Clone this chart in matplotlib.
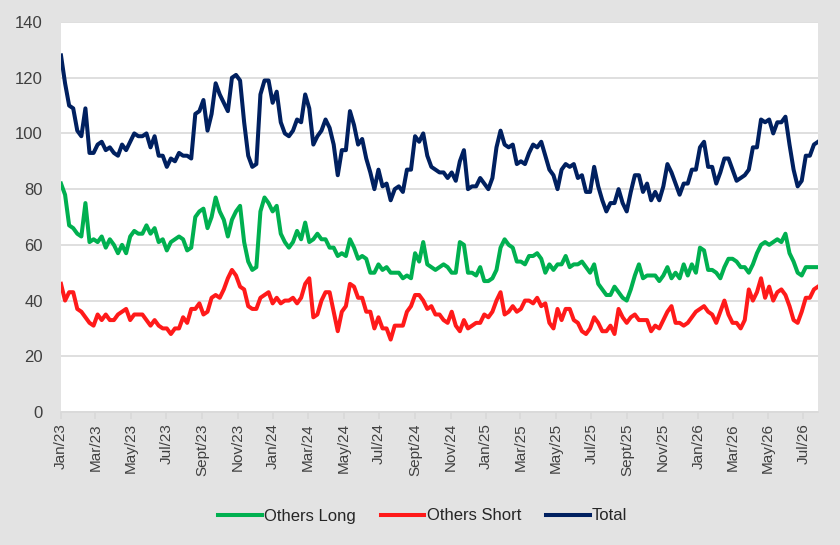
import matplotlib
matplotlib.use('Agg')
import matplotlib.pyplot as plt
import pandas as pd

plt.rcParams['font.family'] = ['Liberation Sans Narrow', 'Liberation Sans', 'DejaVu Sans']

# weekly values, Jan/23 .. late Jul/26
others_long = [
    82, 78, 67, 66, 64, 63, 75, 61, 62, 61,
    63, 59, 62, 60, 57, 60, 57, 63, 65, 64,
    64, 67, 64, 66, 61, 62, 58, 61, 62, 63,
    62, 58, 59, 70, 72, 73, 66, 70, 77, 72,
    69, 63, 69, 72, 74, 61, 54, 51, 52, 72,
    77, 75, 72, 74, 64, 61, 59, 61, 65, 62,
    68, 61, 62, 64, 62, 62, 59, 59, 56, 57,
    56, 62, 59, 55, 56, 55, 50, 50, 53, 51,
    52, 50, 50, 50, 48, 49, 48, 57, 54,
    61, 53, 52, 51, 52, 53, 52, 50, 50, 61, 60, 50, 50, 49, 52, 47, 47, 48, 51, 59, 62, 60, 59, 54, 54,
    53, 56, 56, 57, 55, 50, 53, 51, 53, 53, 56, 52, 53, 53, 54, 52, 50, 53, 46, 44, 42, 42, 45, 43, 41, 40,
    44, 49, 53, 48, 49, 49, 49, 47, 49, 52, 48, 50, 48, 53, 49, 53, 50, 59, 58, 51, 51, 50, 48, 52, 55, 55,
    54, 52,
    52, 50, 53, 57, 60, 61, 60, 61, 62, 61, 64, 57, 54, 50, 49, 52, 52, 52, 52,
]

others_short = [
    46, 40, 43, 43, 37, 36, 34, 32, 31, 35,
    33, 35, 33, 33, 35, 36, 37, 33, 35, 35,
    35, 33, 31, 33, 31, 30, 30, 28, 30, 30,
    34, 32, 37, 37, 39, 35, 36, 41, 42, 41,
    44, 48, 51, 49, 45, 44, 38, 37, 37, 41,
    42, 43, 39, 41, 39, 40, 40, 41, 39, 41,
    46, 48, 34, 35, 40, 43, 43, 36, 29, 36,
    38, 46, 45, 41, 41, 36, 36, 30, 34, 30,
    30, 26, 31, 31, 31, 36, 38, 42, 42,
    40, 37, 38, 35, 35, 33, 32, 36, 31, 29, 33, 30, 31, 32, 32, 35, 34, 36, 40, 43, 35, 36, 38, 36, 37,
    40, 40, 39, 41, 38, 39, 32, 30, 37, 33, 37, 37, 33, 32, 29, 28, 30, 34, 32, 29, 29, 31, 28, 37, 34, 32,
    34, 35, 33, 33, 33, 29, 31, 30, 33, 36, 38, 32, 32, 31, 32, 34, 36, 37, 38, 36, 35, 32, 36, 40, 35, 32,
    32, 30,
    33, 44, 40, 43, 48, 41, 45, 40, 43, 44, 42, 38, 33, 32, 36, 41, 41, 44, 45,
]

total = [
    128, 118, 110, 109, 101, 99, 109, 93, 93, 96,
    97, 94, 95, 93, 92, 96, 94, 97, 100, 99,
    99, 100, 95, 99, 92, 92, 88, 91, 90, 93,
    92, 92, 91, 107, 108, 112, 101, 107, 118, 114,
    111, 108, 120, 121, 119, 104, 92, 88, 89, 114,
    119, 119, 111, 115, 104, 100, 99, 101, 105, 104,
    114, 109, 96, 99, 101, 105, 102, 96, 85, 94,
    94, 108, 103, 96, 98, 91, 86, 80, 87, 81,
    82, 76, 80, 81, 79, 87, 87, 99, 97, 100,
    92, 88, 87, 86, 86, 84, 86, 83, 90, 94,
    80, 81, 81, 84, 82, 80, 84, 95, 101, 96,
    95, 96, 89, 90, 89, 93, 96, 95, 97, 92,
    87, 85, 80, 87, 89, 88, 89, 84, 85, 79,
    79, 88, 81, 76, 72, 75, 75, 80, 75, 72,
    79, 85, 85, 79, 82, 76, 79, 76, 81, 89,
    86, 82, 78, 82, 82, 87, 87, 95, 97, 88,
    88, 82, 86, 91, 91, 87, 83, 84, 85, 87,
    95, 95, 105, 104, 105, 100, 104, 104, 106, 96,
    87, 81, 83, 92, 92, 96, 97,
]

tick_labels = ['Jan/23', 'Mar/23', 'May/23', 'Jul/23', 'Sept/23', 'Nov/23',
               'Jan/24', 'Mar/24', 'May/24', 'Jul/24', 'Sept/24', 'Nov/24',
               'Jan/25', 'Mar/25', 'May/25', 'Jul/25', 'Sept/25', 'Nov/25',
               'Jan/26', 'Mar/26', 'May/26', 'Jul/26']

dates = pd.date_range('2023-01-01', periods=len(total), freq='7D')
tick_dates = pd.date_range('2023-01-01', periods=len(tick_labels), freq='2MS')

fig = plt.figure(figsize=(8.4, 5.45), dpi=100, facecolor='#e3e3e3')
ax = fig.add_axes([61 / 840, 1 - 412 / 545, 757 / 840, 390 / 545])
ax.set_facecolor('white')

ax.plot(dates, others_long, color='#00b050', lw=2.9, label='Others Long', solid_joinstyle='round')
ax.plot(dates, others_short, color='#ff1a1a', lw=2.9, label='Others Short', solid_joinstyle='round')
ax.plot(dates, total, color='#002060', lw=2.9, label='Total', solid_joinstyle='round')

ax.set_xlim(dates[0], dates[-1])
ax.set_ylim(0, 140)
ax.set_yticks(range(0, 141, 20))
ax.yaxis.grid(True, color='#d9d9d9', lw=1.2)
ax.set_axisbelow(True)

for s in ['top', 'left', 'right']:
    ax.spines[s].set_visible(False)
ax.spines['bottom'].set_color('#d9d9d9')
ax.spines['bottom'].set_linewidth(1.2)

ax.set_xticks(tick_dates)
ax.set_xticklabels(tick_labels, rotation=90)
ax.tick_params(axis='x', length=5, color='#d9d9d9', width=1.2, labelsize=11, pad=3, labelcolor='#404040')
ax.tick_params(axis='y', length=0, labelsize=12, pad=13, labelcolor='#404040')

fig.legend(loc='center', bbox_to_anchor=(423 / 840, 1 - 516 / 545), ncol=3, frameon=False,
           handlelength=2.6, handletextpad=0.15, columnspacing=1.5, fontsize=12,
           labelcolor='#262626')

fig.savefig('out.png', dpi=100, facecolor=fig.get_facecolor())
